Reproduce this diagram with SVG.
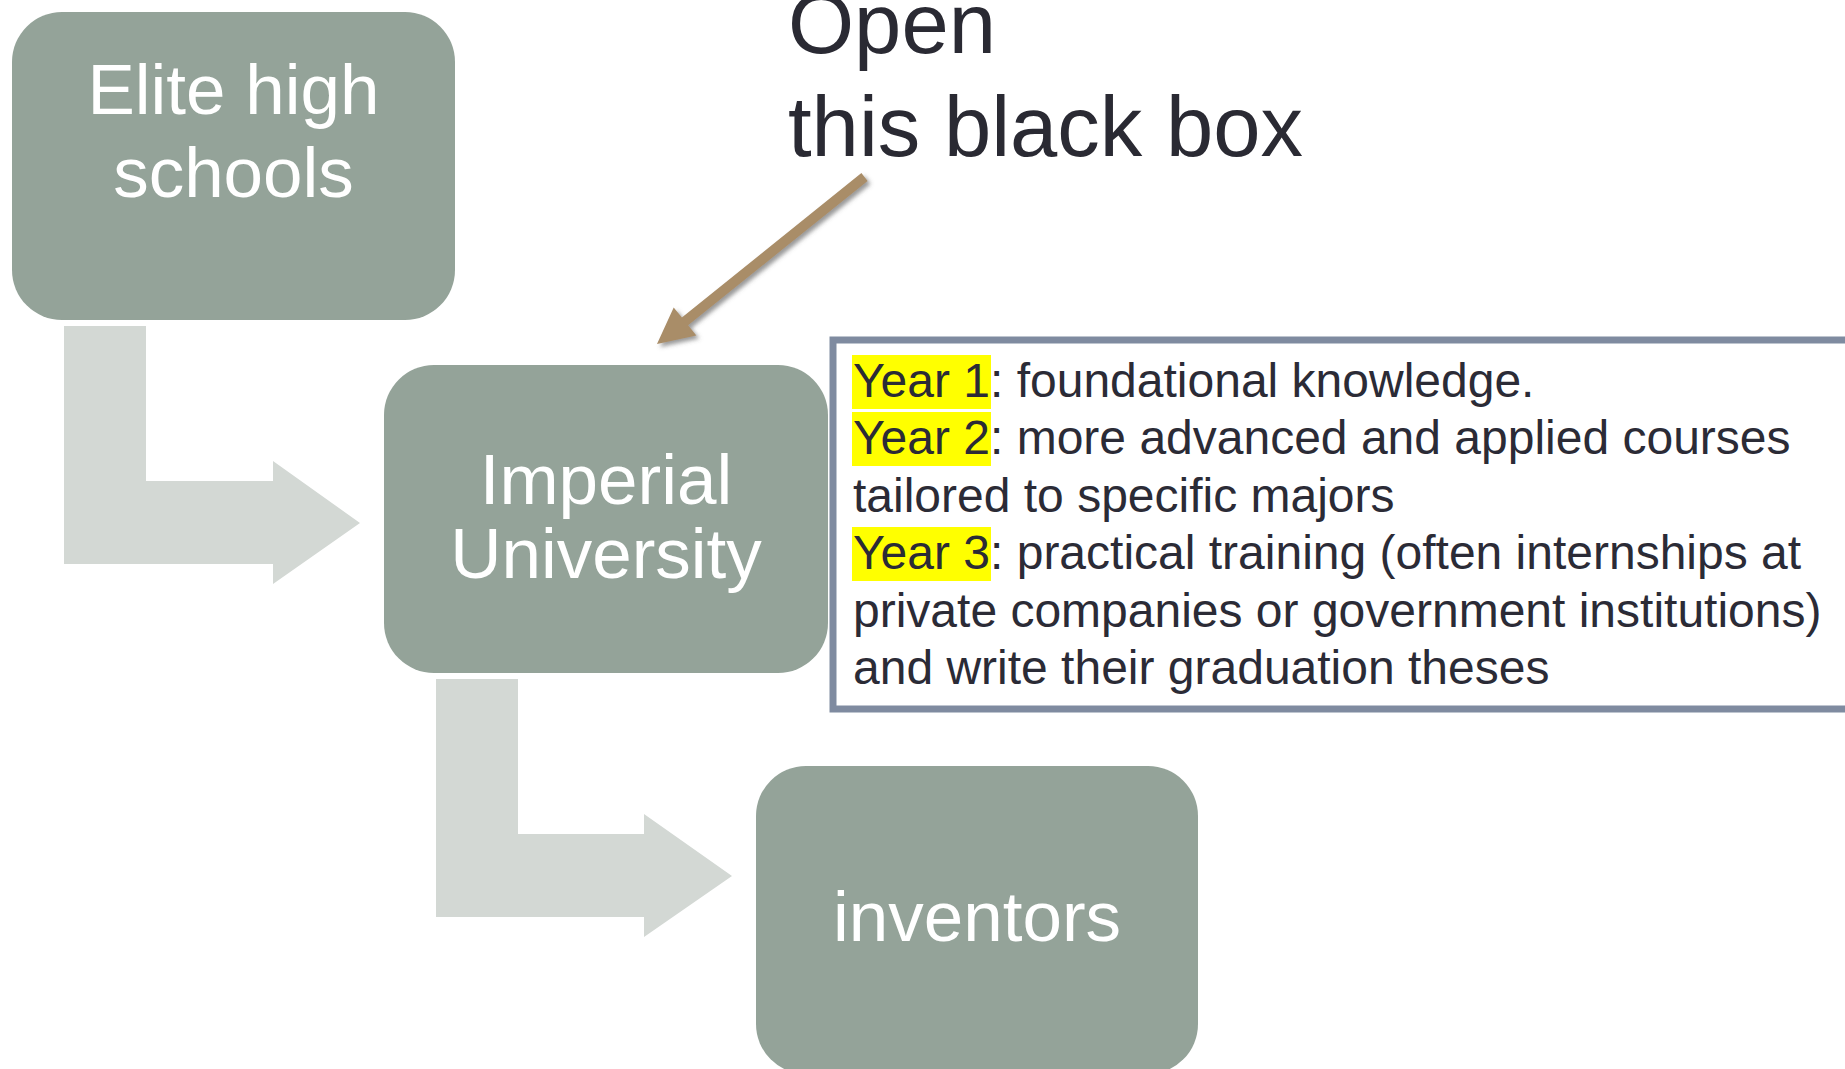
<svg xmlns="http://www.w3.org/2000/svg" width="1845" height="1069" viewBox="0 0 1845 1069">
  <style>
    .node { fill: #94a399; }
    .label { font-family: "Liberation Sans", Arial, sans-serif; font-size: 71px; fill: #ffffff; text-anchor: middle; }
    .flow { fill: #d3d8d4; }
    .title { font-family: "Liberation Sans", Arial, sans-serif; font-size: 85px; fill: #2a2a33; }
    .body { font-family: "Liberation Sans", Arial, sans-serif; font-size: 48px; fill: #2b2b36; }
    .hl { fill: #ffff00; }
  </style>
  <defs>
    <filter id="shadow" x="-20%" y="-20%" width="140%" height="140%">
      <feDropShadow dx="3" dy="3" stdDeviation="2" flood-color="#555555" flood-opacity="0.6"/>
    </filter>
  </defs>

  <rect width="1845" height="1069" fill="#ffffff"/>

  <!-- bent flow arrows between stages -->
  <g id="connectors">
    <path class="flow" d="M64,326 H146 V481 H273 V461 L360,523 L273,584 V564 H64 Z"/>
    <path class="flow" d="M436,679 H518 V834 H644 V814 L732,876 L644,937 V917 H436 Z"/>
    <!-- pointer from the heading to the university -->
    <polygon fill="#a98d68" filter="url(#shadow)" points="861.4,173.1 867.6,180.9 688.1,325.3 696.3,335.4 657,344 673.7,307.4 681.9,317.5"/>
  </g>

  <g id="elite">
    <rect class="node" x="12" y="12" width="443" height="308" rx="50" ry="50"/>
    <text class="label" x="233.5" y="114">Elite high</text>
    <text class="label" x="233.5" y="197">schools</text>
  </g>

  <g id="imperial">
    <rect class="node" x="384" y="365" width="444" height="308" rx="50" ry="50"/>
    <text class="label" x="606" y="504">Imperial</text>
    <text class="label" x="606" y="578">University</text>
  </g>

  <g id="inventors">
    <rect class="node" x="756" y="766" width="442" height="308" rx="50" ry="50"/>
    <text class="label" x="977" y="941">inventors</text>
  </g>

  <g id="heading">
    <text class="title" x="788" y="53">Open</text>
    <text class="title" x="788" y="156">this black box</text>
  </g>

  <g id="curriculum">
    <rect x="833" y="340" width="1030" height="369" fill="#ffffff" stroke="#7f8ba0" stroke-width="7"/>
    <rect class="hl" x="852" y="355" width="139" height="54"/>
    <rect class="hl" x="852" y="412" width="139" height="54"/>
    <rect class="hl" x="852" y="527" width="139" height="54"/>
    <text class="body" x="853" y="397">Year 1: foundational knowledge.</text>
    <text class="body" x="853" y="454">Year 2: more advanced and applied courses</text>
    <text class="body" x="853" y="512">tailored to specific majors</text>
    <text class="body" x="853" y="569">Year 3: practical training (often internships at</text>
    <text class="body" x="853" y="627">private companies or government institutions)</text>
    <text class="body" x="853" y="684">and write their graduation theses</text>
  </g>
</svg>
